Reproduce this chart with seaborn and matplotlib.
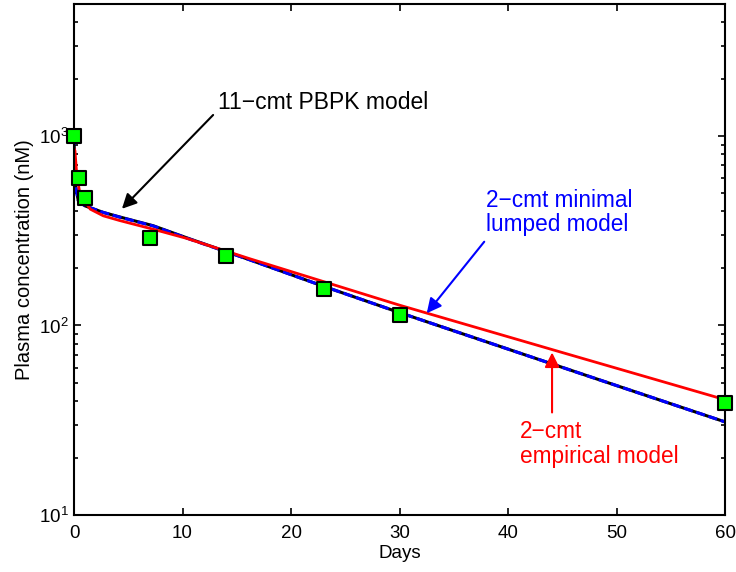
import numpy as np
import pandas as pd
import matplotlib
matplotlib.use("Agg")
import matplotlib.pyplot as plt
import seaborn as sns
from matplotlib.ticker import LogLocator, FixedLocator

# observed plasma concentrations (nM)
obs_days = [0, 0.5, 1, 7, 14, 23, 30, 60]
obs_conc = [1000, 600, 468, 291, 233, 156, 113, 39]

# 11-cmt PBPK model curve
pbpk_days = [0, 0.05, 0.1, 0.4, 1, 2.7, 4.2, 7.3, 10.4, 16.2, 23, 30, 46.6, 60]
pbpk_conc = [1000, 710, 560, 455, 428, 395, 374, 336, 290, 222, 161, 117, 56, 31]

# 2-cmt minimal lumped model (overlaps PBPK)
lumped_days = [0, 0.05, 0.1, 0.4, 1, 2.7, 4.2, 7.3, 10.4, 16.2, 23, 30, 46.6, 60]
lumped_conc = [1000, 705, 558, 455, 428, 395, 373, 335, 289, 222, 161, 117, 56, 31]

# 2-cmt empirical model
emp_days = [0, 0.09, 0.25, 0.55, 1, 1.5, 2.7, 4.2, 7.3, 10.4, 16.2, 30, 45, 60]
emp_conc = [860, 834, 628, 493, 450, 411, 379, 358, 322, 288, 225, 128, 72, 40.6]

sns.set_style("ticks")
plt.rcParams['font.family'] = ['Liberation Sans', 'DejaVu Sans']
plt.rcParams['mathtext.fontset'] = 'custom'
plt.rcParams['mathtext.rm'] = 'Liberation Sans'
plt.rcParams['text.color'] = 'black'
plt.rcParams['axes.labelcolor'] = 'black'

fig = plt.figure(figsize=(7.36, 5.72), dpi=100)
ax = fig.add_axes([74/736, 1-515/572, (725-74)/736, (515-3.5)/572])

sns.lineplot(x=pbpk_days, y=pbpk_conc, ax=ax, color='black', lw=2.2, sort=False)
sns.lineplot(x=lumped_days, y=lumped_conc, ax=ax, color='blue', lw=2.2, sort=False,
             linestyle=(0, (3, 1.2)))
sns.lineplot(x=emp_days, y=emp_conc, ax=ax, color='red', lw=2, sort=False)
sns.scatterplot(x=obs_days, y=obs_conc, ax=ax, marker='s', s=100, color=(0, 1, 0),
                edgecolor='black', linewidth=1.5, zorder=5, clip_on=False)

ax.set_yscale('log')
ax.set_xlim(0, 60)
ax.set_ylim(10, 5000)
ax.set_xticks([0, 10, 20, 30, 40, 50, 60])
ax.yaxis.set_major_locator(FixedLocator([10, 100, 1000]))
ax.yaxis.set_minor_locator(LogLocator(base=10, subs=np.arange(2, 10), numticks=20))
ax.tick_params(which='both', direction='in', top=True, right=True, left=True, bottom=True,
               labelsize=13.5, width=1.2, color='black', labelcolor='black')
ax.tick_params(which='major', length=5)
ax.tick_params(which='minor', length=3)
ax.tick_params(axis='x', pad=7)
for sp in ax.spines.values():
    sp.set_linewidth(1.5)
    sp.set_color('black')

ax.set_xlabel('Days', fontsize=13.5, labelpad=2)
ax.set_ylabel('Plasma concentration (nM)', fontsize=14.5, labelpad=4)

# annotations
ax.text(13.27, 1510, '11\u2212cmt PBPK model', fontsize=16.5, ha='left', va='center')
ax.annotate('', xy=(4.24, 403), xytext=(13.0, 1322),
            arrowprops=dict(arrowstyle='-|>', color='black', lw=1.5, mutation_scale=22))

ax.text(37.97, 395, '2\u2212cmt minimal\nlumped model', fontsize=16.3, color='blue',
        ha='left', va='center', linespacing=1.1)
ax.annotate('', xy=(32.35, 113), xytext=(37.97, 284),
            arrowprops=dict(arrowstyle='-|>', color='blue', lw=1.5, mutation_scale=22))

ax.text(41.1, 23.7, '2\u2212cmt\nempirical model', fontsize=16.3, color='red',
        ha='left', va='center', linespacing=1.1)
ax.annotate('', xy=(44.06, 74.5), xytext=(44.06, 33.6),
            arrowprops=dict(arrowstyle='-|>', color='red', lw=1.5, mutation_scale=22))

fig.savefig('out.png', dpi=100)
